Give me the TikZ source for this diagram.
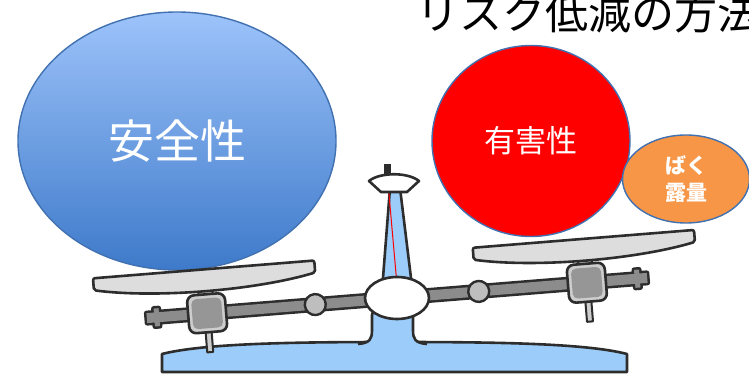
\documentclass[tikz,border=0pt]{standalone}
\usepackage{fontspec}
\newfontfamily\jpfont{Noto Sans CJK JP}
\usetikzlibrary{shapes.geometric}
\definecolor{scaledark}{RGB}{45,45,45}
\definecolor{scaleblue}{RGB}{155,204,250}
\definecolor{panfill}{RGB}{221,221,221}
\definecolor{beamgray}{RGB}{140,140,140}
\definecolor{knobgray}{RGB}{190,190,190}
\definecolor{blocklight}{RGB}{205,205,205}
\definecolor{blockgray}{RGB}{150,150,150}
\definecolor{safetop}{RGB}{157,195,250}
\definecolor{safebottom}{RGB}{62,122,202}
\definecolor{edgeblue}{RGB}{65,113,176}
\definecolor{exporange}{RGB}{247,150,70}

\begin{document}
\begin{tikzpicture}[x=1pt, y=-1pt,
  weight/.style={ellipse, draw=edgeblue, line width=1.4pt, text=white, inner sep=0pt, align=center},
  part/.style={draw=scaledark, line width=2.6pt, line join=round}
]
  \useasboundingbox (0,0) rectangle (749,374);
  \clip (0,0) rectangle (749,374);

  % Title
  \node[anchor=base west, inner sep=0pt, font=\jpfont\fontsize{43}{48}\selectfont] (title) at (416,30) {リスク低減の方法};

  % Weights
  \node[weight, minimum width=318pt, minimum height=258pt, top color=safetop, bottom color=safebottom,
    font=\jpfont\fontsize{46}{50}\selectfont] (safety) at (177,141) {安全性};
  \node[weight, minimum width=198pt, minimum height=191pt, fill=red,
    font=\jpfont\fontsize{31}{36}\selectfont] (hazard) at (531,141) {有害性};
  \node[weight, minimum width=127pt, minimum height=88pt, fill=exporange,
    font=\jpfont\bfseries\fontsize{21}{27}\selectfont] (exposure) at (686,179) {ばく\\露量};

  % Base
  \draw[part, fill=scaleblue] (162,372) -- (162,354) .. controls (205,343) and (300,342) .. (395,342)
    .. controls (490,342) and (585,343) .. (627,354) -- (627,372) -- cycle;

  % Pillar
  \draw[part, fill=scaleblue] (358,344) .. controls (370,343) and (372,339) .. (372,330) -- (372,315)
    -- (383,278) -- (390,188) -- (400,188) -- (411,278) -- (413,315) -- (413,330)
    .. controls (413,339) and (415,343) .. (427,344);
  \draw[red, line width=1pt] (388,183) -- (397,285);

  % Beam, pans and hangers
  \coordinate (pivot) at (397,298);
  \begin{scope}[shift={(pivot)}, rotate=4.6]
    \foreach \s in {-1,1} {
      \draw[part, line width=2pt, fill=blocklight] (\s*190.5-3,15) rectangle (\s*190.5+3,39);
      \draw[part, line width=2pt, fill=blocklight] (\s*190.5-7,-28) rectangle (\s*190.5+7,-15);
    }
    \draw[scaledark, line width=5pt, line join=round] (-251,-5) rectangle (251,5)
      (-243.5,-9) rectangle (-238.5,9) (238.5,-9) rectangle (243.5,9);
    \fill[beamgray] (-251,-5) rectangle (251,5)
      (-243.5,-9) rectangle (-238.5,9) (238.5,-9) rectangle (243.5,9);
    \foreach \s in {-1,1} {
      \draw[part, line width=2.4pt, fill=knobgray] (\s*82,0) circle[radius=10.5];
      \draw[part, fill=blocklight, rounded corners=7pt] (\s*190.5-19,-19) rectangle (\s*190.5+19,19);
      \fill[blockgray, rounded corners=5pt] (\s*190.5-15,-15) rectangle (\s*190.5+15,15);
      \draw[part, fill=panfill, rounded corners=2pt] (\s*190.5-111,-44) -- (\s*190.5+111,-44) -- (\s*190.5+111,-32)
        .. controls (\s*190.5+50,-19) and (\s*190.5-50,-19) .. (\s*190.5-111,-32) -- cycle;
    }
  \end{scope}

  % Hub and pointer
  \node[ellipse, part, fill=white, minimum width=64pt, minimum height=42pt, inner sep=0pt] (hub) at (pivot) {};
  \fill[scaledark] (384,164) rectangle (391,176);
  \draw[part, fill=white] (369,181) .. controls (380,172) and (408,172) .. (419,181) -- (407,192) -- (381,192) -- cycle;
\end{tikzpicture}
\end{document}
